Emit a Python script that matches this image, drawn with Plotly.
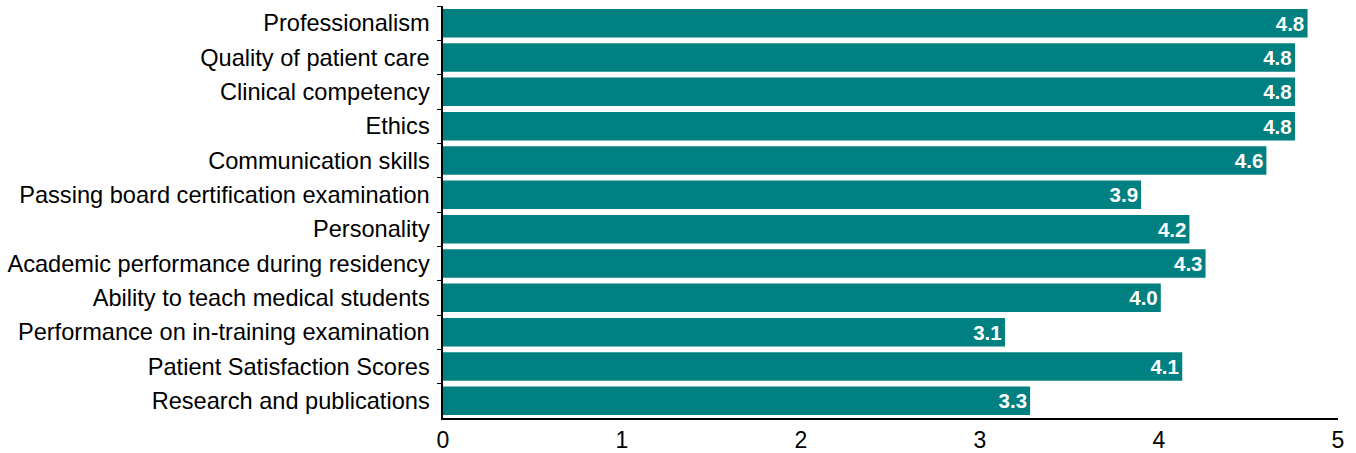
import plotly.graph_objects as go

categories = [
    "Professionalism",
    "Quality of patient care",
    "Clinical competency",
    "Ethics",
    "Communication skills",
    "Passing board certification examination",
    "Personality",
    "Academic performance during residency",
    "Ability to teach medical students",
    "Performance on in-training examination",
    "Patient Satisfaction Scores",
    "Research and publications",
]
values = [4.83, 4.76, 4.76, 4.76, 4.60, 3.90, 4.17, 4.26, 4.01, 3.14, 4.13, 3.28]
labels = ["4.8", "4.8", "4.8", "4.8", "4.6", "3.9", "4.2", "4.3", "4.0", "3.1", "4.1", "3.3"]
x_ticks = [0, 1, 2, 3, 4, 5]

fig = go.Figure(
    go.Bar(
        y=categories,
        x=values,
        orientation="h",
        marker=dict(color="#008080", line=dict(width=0)),
        text=labels,
        textposition="inside",
        insidetextanchor="end",
        textfont=dict(family="Liberation Sans, Arial, sans-serif", size=21, color="white", weight="bold"),
    )
)

fig.update_layout(
    width=1356,
    height=453,
    margin=dict(l=443, r=18, t=6, b=35),
    paper_bgcolor="white",
    plot_bgcolor="white",
    bargap=0.17,
    showlegend=False,
    font=dict(family="Liberation Sans, Arial, sans-serif", size=23.6, color="black"),
    uniformtext=dict(minsize=10, mode="show"),
)
fig.update_xaxes(
    range=[0, 5],
    tickvals=x_ticks,
    showgrid=False,
    zeroline=False,
    showline=True,
    linecolor="black",
    linewidth=2,
    ticks="",
    tickfont=dict(size=23),
    automargin=False,
)
fig.update_yaxes(
    autorange="reversed",
    showgrid=False,
    showline=True,
    linecolor="black",
    linewidth=2,
    ticks="outside",
    tickson="boundaries",
    ticklen=4,
    tickcolor="black",
    tickwidth=1,
    ticksuffix=" ",
    tickfont=dict(size=23.6),
    automargin=False,
)

fig.write_html("out.html", config={"displayModeBar": False})

# remove default page margin so the figure sits at the top-left corner
with open("out.html", "r", encoding="utf-8") as f:
    html = f.read()
html = html.replace("<head>", "<head><style>html,body{margin:0;padding:0;overflow:hidden;}</style>", 1)
with open("out.html", "w", encoding="utf-8") as f:
    f.write(html)
